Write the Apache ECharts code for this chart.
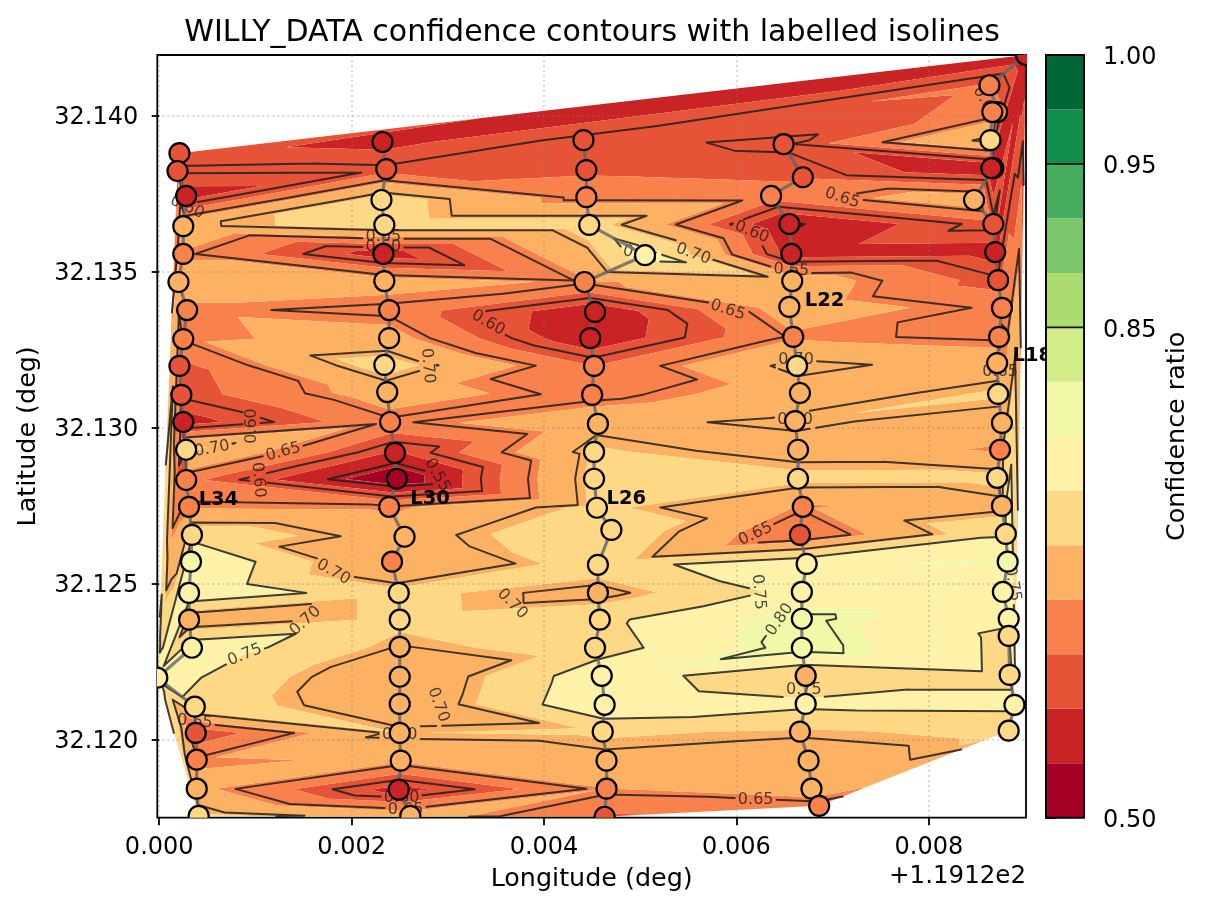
<!DOCTYPE html>
<html><head><meta charset="utf-8"><style>html,body{margin:0;background:#fff}#c{width:1209px;height:911px}</style>
<script src="https://cdn.jsdelivr.net/npm/echarts@6/dist/echarts.min.js"></script></head><body><div id="c"></div>
<script>
const lonL34=[0.00021,0.00019,0.00028,0.00025,0.00025,0.00020,0.00029,0.00025,0.00021,0.00023,0.00025,0.00028,0.00028,0.00031,0.00034,0.00033,0.00031,0.00031,0.00034,-0.00002,0.00037,0.00038,0.00039,0.00039,0.00041];
const latL34=[32.13881,32.13824,32.13744,32.13647,32.13558,32.13468,32.13378,32.13285,32.13199,32.13106,32.13019,32.12930,32.12833,32.12747,32.12657,32.12571,32.12471,32.12385,32.12295,32.12199,32.12106,32.12022,32.11936,32.11843,32.11756];
const valL34=[0.591,0.6035,0.565,0.693,0.6555,0.675,0.655,0.652,0.61,0.605,0.565,0.7175,0.63,0.655,0.735,0.795,0.788,0.67,0.78,0.77,0.74,0.595,0.655,0.67,0.72];
const lonL30=[0.00232,0.00236,0.00231,0.00234,0.00233,0.00234,0.00239,0.00239,0.00234,0.00237,0.00240,0.00245,0.00247,0.00239,0.00255,0.00242,0.00249,0.00250,0.00250,0.00250,0.00250,0.00250,0.00251,0.00249,0.00261];
const latL30=[32.13917,32.13830,32.13731,32.13651,32.13558,32.13471,32.13378,32.13288,32.13202,32.13115,32.13019,32.12920,32.12837,32.12747,32.12651,32.12571,32.12471,32.12385,32.12298,32.12202,32.12115,32.12022,32.11933,32.11840,32.11756];
const valL30=[0.57,0.605,0.73,0.73,0.563,0.675,0.643,0.675,0.728,0.68,0.645,0.575,0.511,0.652,0.685,0.655,0.72,0.72,0.698,0.66,0.665,0.709,0.665,0.566,0.68];
const lonL26=[0.00441,0.00444,0.00444,0.00447,0.00505,0.00442,0.00453,0.00448,0.00452,0.00450,0.00456,0.00452,0.00452,0.00455,0.00470,0.00456,0.00456,0.00458,0.00453,0.00460,0.00463,0.00461,0.00465,0.00465,0.00463];
const latL26=[32.13923,32.13827,32.13740,32.13651,32.13554,32.13468,32.13372,32.13288,32.13199,32.13106,32.13013,32.12923,32.12837,32.12744,32.12673,32.12561,32.12471,32.12385,32.12295,32.12205,32.12112,32.12026,32.11933,32.11843,32.11753];
const valL26=[0.608,0.615,0.64,0.73,0.775,0.655,0.552,0.552,0.62,0.64,0.69,0.715,0.72,0.72,0.745,0.73,0.688,0.74,0.73,0.778,0.787,0.716,0.69,0.659,0.615];
const lonL22=[0.00649,0.00669,0.00636,0.00655,0.00657,0.00658,0.00655,0.00659,0.00663,0.00666,0.00661,0.00664,0.00664,0.00669,0.00666,0.00673,0.00668,0.00668,0.00668,0.00672,0.00672,0.00666,0.00675,0.00678,0.00686];
const latL22=[32.13910,32.13804,32.13744,32.13654,32.13558,32.13471,32.13388,32.13292,32.13199,32.13112,32.13022,32.12930,32.12837,32.12747,32.12657,32.12564,32.12474,32.12388,32.12295,32.12205,32.12115,32.12026,32.11933,32.11843,32.11788];
const valL22=[0.595,0.615,0.635,0.545,0.565,0.685,0.68,0.655,0.712,0.68,0.708,0.685,0.72,0.655,0.619,0.785,0.7636,0.808,0.815,0.708,0.76,0.705,0.68,0.68,0.64];
const lonL18=[0.00901,0.00863,0.00871,0.00866,0.00864,0.00867,0.00865,0.00847,0.00867,0.00869,0.00872,0.00876,0.00873,0.00871,0.00872,0.00876,0.00874,0.00871,0.00876,0.00880,0.00882,0.00877,0.00883,0.00883,0.00884,0.00889,0.00883];
const latL18=[32.14196,32.14099,32.14013,32.14013,32.13923,32.13833,32.13833,32.13731,32.13654,32.13564,32.13474,32.13385,32.13292,32.13208,32.13109,32.13016,32.12930,32.12840,32.12750,32.12660,32.12571,32.12474,32.12388,32.12333,32.12208,32.12112,32.12029];
const valL18=[0.56,0.625,0.63,0.635,0.71,0.55,0.55,0.685,0.61,0.565,0.605,0.645,0.645,0.68,0.715,0.68,0.655,0.72,0.69,0.745,0.795,0.76,0.76,0.74,0.74,0.76,0.72];
const trackNames=['L34','L30','L26','L22','L18'];
const trackLabelLon=[0.00041,0.00261,0.00465,0.00671,0.00887];
const trackLabelLat=[32.12769,32.12772,32.12772,32.13407,32.13231];
const tracks=[[lonL34,latL34,valL34],[lonL30,latL30,valL30],[lonL26,latL26,valL26],[lonL22,latL22,valL22],[lonL18,latL18,valL18]];
const fillLevels=[0.5,0.54,0.58,0.62,0.66,0.71,0.75,0.79,0.82,0.85,0.883,0.917,0.95,0.975,1.0];
const bandColors=['#a50026','#c92325','#e75337','#f9814c','#fdb163','#fed884','#fef2a9','#f1f9a9','#d2ec87','#acdc6f','#7bc66a','#45ad5d','#138f4d','#006837'];
const isoLevels=[0.55,0.60,0.65,0.70,0.75,0.80,0.85];
const cbTickLevels=[0.50,0.85,0.95,1.00];
const cbLineLevels=[0.85,0.95];
const isoText=['0.60','0.65','0.60','0.70','0.60','0.60','0.70','0.65','0.55','0.70','0.70','0.75','0.65','0.70','0.70','0.60','0.65','0.70','0.75','0.65','0.60','0.70','0.65','0.60','0.65','0.65','0.70','0.70','0.65','0.65','0.75','0.80','0.75','0.65','0.75'];
const isoLon=[0.00029,0.00233,0.00233,0.00279,0.00096,0.00103,0.00055,0.00129,0.00289,0.00181,0.00152,0.00089,0.00037,0.00250,0.00290,0.00252,0.00256,0.00555,0.00500,0.00591,0.00342,0.00367,0.00710,0.00616,0.00657,0.00859,0.00662,0.00661,0.00874,0.00620,0.00623,0.00645,0.00670,0.00620,0.00887];
const isoLat=[32.13708,32.13612,32.13580,32.13199,32.13006,32.12833,32.12933,32.12923,32.12849,32.12538,32.12381,32.12272,32.12058,32.12016,32.12112,32.11814,32.11776,32.13558,32.13554,32.13378,32.13337,32.12436,32.13737,32.13628,32.13506,32.14042,32.13218,32.13026,32.13179,32.12660,32.12474,32.12385,32.12160,32.11808,32.12500];
const isoAngle=[-25,0,0,-85,90,-85,10,15,-60,-30,42,22,-5,0,-70,0,0,-20,-15,-18,-30,-45,-18,-22,-3,-60,0,0,0,25,-85,55,0,0,-80];
const xTicks=[0,0.002,0.004,0.006,0.008];
const yTicks=[32.120,32.125,32.130,32.135,32.140];

/* ---- triangulation in data space ---- */
const LAT0=32.13, K=1000;
const pts=[];
tracks.forEach(t=>t[0].forEach((lon,i)=>pts.push({lon,lat:t[1][i],v:t[2][i],x:lon*K,y:(t[1][i]-LAT0)*K})));
function delaunay(P){
  const S=1e5, all=P.concat([{x:-S,y:-S},{x:S,y:-S},{x:0,y:S}]);
  const n=P.length;
  const mk=(a,b,c)=>{const A=all[a],B=all[b],C=all[c];
    const d=2*(A.x*(B.y-C.y)+B.x*(C.y-A.y)+C.x*(A.y-B.y));
    const a2=A.x*A.x+A.y*A.y,b2=B.x*B.x+B.y*B.y,c2=C.x*C.x+C.y*C.y;
    const ux=(a2*(B.y-C.y)+b2*(C.y-A.y)+c2*(A.y-B.y))/d,uy=(a2*(C.x-B.x)+b2*(A.x-C.x)+c2*(B.x-A.x))/d;
    return {a,b,c,ux,uy,r:(A.x-ux)**2+(A.y-uy)**2};};
  let T=[mk(n,n+1,n+2)];
  for(let i=0;i<n;i++){const p=all[i],bad=[],keep=[];
    T.forEach(t=>((p.x-t.ux)**2+(p.y-t.uy)**2<t.r?bad:keep).push(t));
    const edges={};
    bad.forEach(t=>[[t.a,t.b],[t.b,t.c],[t.c,t.a]].forEach(([u,v])=>{const k=u<v?u+'_'+v:v+'_'+u;edges[k]=edges[k]?{dup:1}:{u,v};}));
    T=keep;
    Object.values(edges).forEach(e=>{if(!e.dup)T.push(mk(e.u,e.v,i));});
  }
  return T.filter(t=>t.a<n&&t.b<n&&t.c<n).map(t=>{
    const A=P[t.a],B=P[t.b],C=P[t.c];
    const s=(B.x-A.x)*(C.y-A.y)-(B.y-A.y)*(C.x-A.x);
    return s>0?[A,B,C]:[A,C,B];});
}
const tris=delaunay(pts);
function clipPoly(poly,level,keepAbove){
  const out=[],inside=p=>keepAbove?p.v>=level:p.v<=level;
  poly.forEach((p,i)=>{const q=poly[(i+1)%poly.length],ip=inside(p),iq=inside(q);
    if(ip)out.push(p);
    if(ip!==iq){const t=(level-p.v)/(q.v-p.v);out.push({lon:p.lon+t*(q.lon-p.lon),lat:p.lat+t*(q.lat-p.lat),v:level});}});
  return out;
}
const bandPolys=bandColors.map((_,b)=>{const r=[];tris.forEach(t=>{
  let p=clipPoly(t,fillLevels[b],true);if(p.length<3)return;p=clipPoly(p,fillLevels[b+1],false);if(p.length>=3)r.push(p);});return r;});
const isoSegs=isoLevels.map(L=>{const r=[];tris.forEach(t=>{const c=[];
  for(let i=0;i<3;i++){const p=t[i],q=t[(i+1)%3];if((p.v>=L)!==(q.v>=L)){const f=(L-p.v)/(q.v-p.v);c.push([p.lon+f*(q.lon-p.lon),p.lat+f*(q.lat-p.lat)]);}}
  if(c.length===2)r.push(c);});return r;});
function colorOf(v){for(let b=0;b<bandColors.length;b++)if(v<fillLevels[b+1])return bandColors[b];return bandColors[bandColors.length-1];}
function cut(p,q,boxes){
  let pieces=[[0,1]];
  boxes.forEach(b=>{const c=Math.cos(b.a),s=Math.sin(b.a);
    const loc=P=>[(P[0]-b.c[0])*c-(P[1]-b.c[1])*s,(P[0]-b.c[0])*s+(P[1]-b.c[1])*c];
    const A=loc(p),B=loc(q);let t0=0,t1=1,ok=true;
    [[A[0],B[0],21],[A[1],B[1],9]].forEach(([u,w,h])=>{const d=w-u;
      if(Math.abs(d)<1e-9){if(Math.abs(u)>h)ok=false;return;}
      let a=(-h-u)/d,e=(h-u)/d;if(a>e)[a,e]=[e,a];t0=Math.max(t0,a);t1=Math.min(t1,e);});
    if(!ok||t0>=t1)return;
    const nx=[];pieces.forEach(([a,e])=>{if(t1<=a||t0>=e){nx.push([a,e]);return;}if(t0>a)nx.push([a,t0]);if(t1<e)nx.push([t1,e]);});pieces=nx;});
  return pieces.map(([a,e])=>[[p[0]+a*(q[0]-p[0]),p[1]+a*(q[1]-p[1])],[p[0]+e*(q[0]-p[0]),p[1]+e*(q[1]-p[1])]]);
}
const F='DejaVu Sans',AX={left:157.3,top:55,width:868.7,height:762.7};
const trackSeries=tracks.map((t,i)=>({type:'line',name:trackNames[i],data:t[0].map((x,k)=>[x,t[1][k]]),showSymbol:false,symbol:'none',z:3,clip:true,silent:true,lineStyle:{color:'rgba(100,100,100,0.8)',width:3.2},animation:false}));
const markers=[];tracks.forEach(t=>t[0].forEach((x,k)=>markers.push([x,t[1][k],t[2][k]])));
const option={animation:false,backgroundColor:'#fff',
 title:{text:'WILLY_DATA confidence contours with labelled isolines',left:587,top:13,textAlign:'center',textStyle:{fontFamily:F,fontSize:30,fontWeight:'normal',color:'#000'}},
 grid:[{...AX,show:true,borderColor:'#000',borderWidth:1.8,backgroundColor:'transparent'},{left:1046,top:55,width:38,height:762.7,show:true,borderColor:'#000',borderWidth:1.8,backgroundColor:'transparent'}],
 xAxis:[{gridIndex:0,type:'value',min:-0.00002,max:0.00901,name:'Longitude (deg)',nameLocation:'middle',nameGap:49,nameTextStyle:{fontFamily:F,fontSize:25.4,color:'#000'},
   axisLine:{show:false},axisTick:{show:true,length:7.5,lineStyle:{color:'#000',width:1.8},customValues:xTicks},
   axisLabel:{fontFamily:F,fontSize:24,color:'#000',margin:18,customValues:xTicks,formatter:v=>v.toFixed(3)},
   splitLine:{show:true,lineStyle:{color:'rgba(130,130,130,0.32)',width:1.8,type:[2,3]}}},
  {gridIndex:1,type:'value',min:0,max:1,show:false}],
 yAxis:[{gridIndex:0,type:'value',min:32.1175,max:32.14196,name:'Latitude (deg)',nameLocation:'middle',nameGap:116,nameTextStyle:{fontFamily:F,fontSize:25.4,color:'#000'},
   axisLine:{show:false},axisTick:{show:true,length:7.5,lineStyle:{color:'#000',width:1.8},customValues:yTicks},
   axisLabel:{fontFamily:F,fontSize:24,color:'#000',margin:19,verticalAlign:'top',padding:[-10,0,0,0],customValues:yTicks,formatter:v=>v.toFixed(3)},
   splitLine:{show:true,lineStyle:{color:'rgba(130,130,130,0.32)',width:1.8,type:[2,3]}}},
  {gridIndex:1,type:'value',min:0,max:14,position:'right',name:'Confidence ratio',nameLocation:'middle',nameGap:81,nameRotate:90,nameTextStyle:{fontFamily:F,fontSize:25.4,color:'#000'},
   axisLine:{show:false},splitLine:{show:false},
   axisTick:{show:true,length:10,lineStyle:{color:'#000',width:1.8},customValues:cbTickLevels.map(l=>fillLevels.indexOf(l))},
   axisLabel:{fontFamily:F,fontSize:24,color:'#000',margin:19,verticalAlign:'top',padding:[-9,0,0,0],customValues:cbTickLevels.map(l=>fillLevels.indexOf(l)),formatter:v=>fillLevels[v].toFixed(2)}}],
 graphic:[{type:'text',right:1209-1026,top:864,z:10,style:{text:'+1.1912e2',font:'24.5px "DejaVu Sans"',fill:'#000',textAlign:'right'}}],
 series:[
  {type:'custom',name:'fill',z:-1,clip:true,xAxisIndex:0,yAxisIndex:0,silent:true,coordinateSystem:'cartesian2d',data:bandColors.map((c,i)=>[0,32.13,i]),
   renderItem:(params,api)=>{const b=params.dataIndex;let d='';
     bandPolys[b].forEach(poly=>{poly.forEach((p,i)=>{const c=api.coord([p.lon,p.lat]);d+=(i?'L':'M')+c[0].toFixed(2)+' '+c[1].toFixed(2)+' ';});d+='Z ';});
     if(!d)return null;return {type:'path',shape:{pathData:d},style:{fill:bandColors[b],stroke:null}};}},
  {type:'custom',name:'isolines',z:2,clip:true,xAxisIndex:0,yAxisIndex:0,silent:true,coordinateSystem:'cartesian2d',data:isoLevels.map((l,i)=>[0,32.13,i]),
   renderItem:(params,api)=>{const i=params.dataIndex,L=isoLevels[i];
     const boxes=[];isoText.forEach((t,k)=>{if(+t===L)boxes.push({c:api.coord([isoLon[k],isoLat[k]]),a:isoAngle[k]*Math.PI/180});});
     let d='';isoSegs[i].forEach(s=>{cut(api.coord(s[0]),api.coord(s[1]),boxes).forEach(g=>{d+='M'+g[0][0].toFixed(2)+' '+g[0][1].toFixed(2)+' L'+g[1][0].toFixed(2)+' '+g[1][1].toFixed(2)+' ';});});
     if(!d)return null;return {type:'path',shape:{pathData:d},style:{fill:null,stroke:'rgba(30,30,30,0.85)',lineWidth:2,lineCap:'round',lineJoin:'round'}};}},
  {type:'custom',name:'isolabels',z:2,xAxisIndex:0,yAxisIndex:0,silent:true,coordinateSystem:'cartesian2d',data:isoText.map((t,k)=>[isoLon[k],isoLat[k]]),
   renderItem:(params,api)=>{const k=params.dataIndex,c=api.coord([isoLon[k],isoLat[k]]);
     return {type:'text',x:c[0],y:c[1],rotation:isoAngle[k]*Math.PI/180,style:{text:isoText[k],font:'16px "DejaVu Sans"',fill:'rgba(30,30,30,0.8)',textAlign:'center',textVerticalAlign:'middle'}};}},
  ...trackSeries,
  {type:'custom',name:'points',z:4,clip:true,xAxisIndex:0,yAxisIndex:0,silent:true,coordinateSystem:'cartesian2d',data:markers,encode:{x:0,y:1},
   renderItem:(params,api)=>{const c=api.coord([api.value(0),api.value(1)]);
     return {type:'circle',shape:{cx:c[0],cy:c[1],r:10},style:{fill:colorOf(api.value(2)),stroke:'#000',lineWidth:2.2}};}},
  {type:'custom',name:'tracklabels',z:5,xAxisIndex:0,yAxisIndex:0,silent:true,coordinateSystem:'cartesian2d',data:trackNames.map((t,k)=>[trackLabelLon[k],trackLabelLat[k]]),
   renderItem:(params,api)=>{const k=params.dataIndex,c=api.coord([trackLabelLon[k],trackLabelLat[k]]);
     return {type:'text',x:c[0],y:c[1],style:{text:trackNames[k],font:'bold 19.5px "DejaVu Sans"',fill:'#000',textAlign:'left',textVerticalAlign:'middle'}};}},
  {type:'custom',name:'colorbar',z:6,xAxisIndex:1,yAxisIndex:1,silent:true,coordinateSystem:'cartesian2d',data:bandColors.map((c,i)=>[0,i]),
   renderItem:(params,api)=>{const i=params.dataIndex,a=api.coord([0,i]),b=api.coord([1,i+1]);
     return {type:'rect',shape:{x:a[0],y:b[1],width:b[0]-a[0],height:a[1]-b[1]},style:{fill:bandColors[i],stroke:null}};}},
  {type:'custom',name:'colorbarLines',z:7,xAxisIndex:1,yAxisIndex:1,silent:true,coordinateSystem:'cartesian2d',data:cbLineLevels.map(l=>[0,fillLevels.indexOf(l)]),
   renderItem:(params,api)=>{const y=fillLevels.indexOf(cbLineLevels[params.dataIndex]),a=api.coord([0,y]),b=api.coord([1,y]);
     return {type:'line',shape:{x1:a[0],y1:a[1],x2:b[0],y2:b[1]},style:{stroke:'#111',lineWidth:1.8}};}},
  {type:'custom',name:'colorbarFrame',z:8,xAxisIndex:1,yAxisIndex:1,silent:true,coordinateSystem:'cartesian2d',data:[[0,0]],
   renderItem:(params,api)=>{const a=api.coord([0,0]),b=api.coord([1,14]);
     return {type:'rect',shape:{x:a[0],y:b[1],width:b[0]-a[0],height:a[1]-b[1]},style:{fill:null,stroke:'#000',lineWidth:1.8}};}}
 ]};
echarts.init(document.getElementById('c'),null,{renderer:'canvas'}).setOption(option);
</script></body></html>
